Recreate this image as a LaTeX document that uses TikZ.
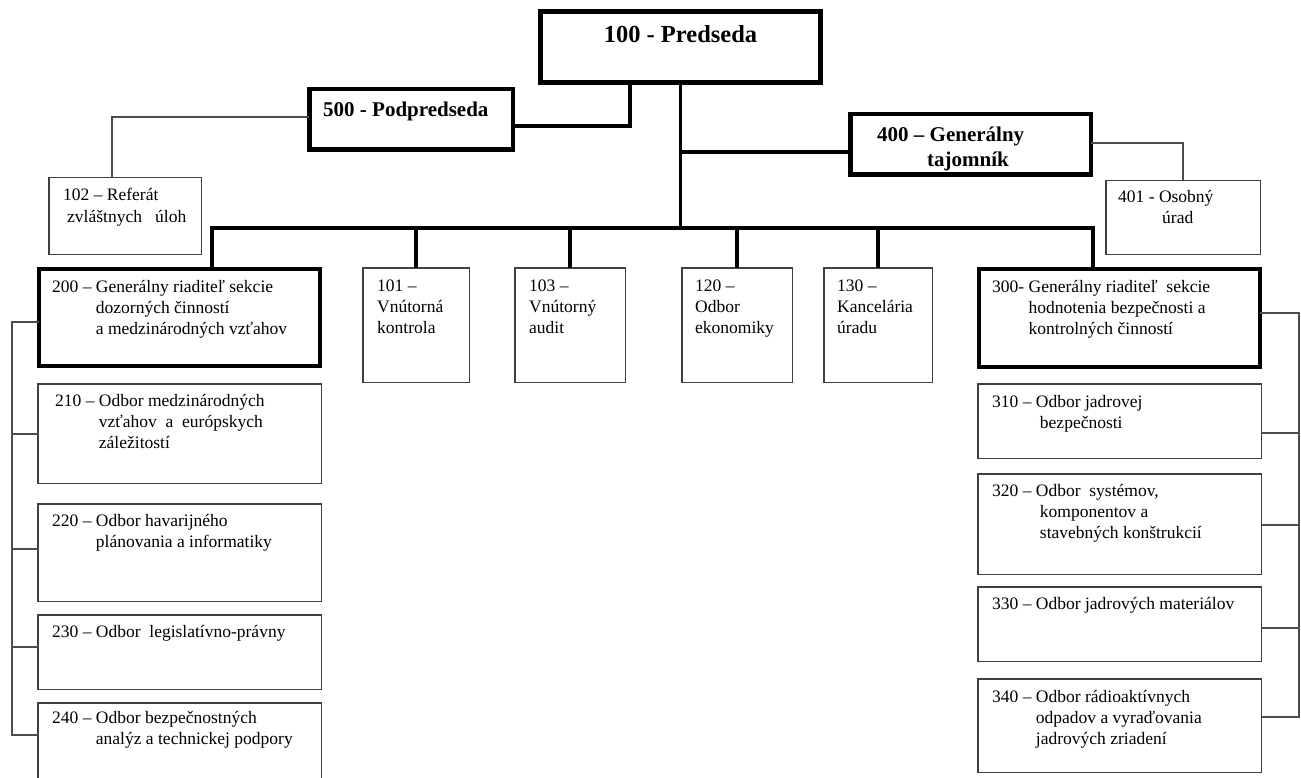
\documentclass[tikz,border=0pt]{standalone}
\usepackage{fontspec}
\setmainfont{Liberation Serif}

\begin{document}
\begin{tikzpicture}[x=1pt,y=-1pt,
  bigbox/.style={draw,line width=4.5pt,inner sep=0pt,outer sep=0pt},
  secbox/.style={draw,line width=3.8pt,inner sep=0pt,outer sep=0pt},
  smallbox/.style={draw=black!75,line width=1.5pt,inner sep=0pt,outer sep=0pt},
  wh/.style 2 args={minimum width=#1,minimum height=#2},
  thickline/.style={line width=3.8pt},
  thinline/.style={draw=black!70,line width=1.5pt},
  lbl/.style={anchor=base west,inner sep=0pt,font=\fontsize{17.5}{21}\selectfont},
  head/.style={anchor=base west,inner sep=0pt,font=\fontsize{21}{25}\selectfont\bfseries}]
\useasboundingbox (0,0) rectangle (1301,778);
\clip (0,0) rectangle (1301,778);

\node[bigbox,line width=5pt,wh={280}{71}] (pre) at (680.5,47) {};
\node[bigbox,wh={203.5}{60.5}] (pod) at (411,119.5) {};
\node[bigbox,wh={240.5}{60.5}] (gen) at (970.5,144.5) {};
\node[smallbox,wh={152.5}{76.5}] (r102) at (125,216) {};
\node[smallbox,wh={154.5}{73.5}] (r401) at (1183,217.5) {};
\node[secbox,wh={281}{97}] (s200) at (179.5,317.5) {};
\node[secbox,wh={281}{98}] (s300) at (1119.5,318) {};
\node[smallbox,wh={106.5}{114.5}] (o101) at (416,325) {};
\node[smallbox,wh={110.5}{114.5}] (o103) at (570,325) {};
\node[smallbox,wh={110.5}{114.5}] (o120) at (737,325) {};
\node[smallbox,wh={108.5}{114.5}] (o130) at (878,325) {};
\node[smallbox,wh={283.5}{99.5}] (o210) at (179.5,433.5) {};
\node[smallbox,wh={283.5}{97.5}] (o220) at (179.5,552.5) {};
\node[smallbox,wh={283.5}{74.5}] (o230) at (179.5,652) {};
\node[smallbox,wh={283.5}{86.5}] (o240) at (179.5,746) {};
\node[smallbox,wh={283.5}{74.5}] (o310) at (1119.5,421) {};
\node[smallbox,wh={283.5}{100.5}] (o320) at (1119.5,524) {};
\node[smallbox,wh={283.5}{74.5}] (o330) at (1119.5,624) {};
\node[smallbox,wh={283.5}{93.5}] (o340) at (1119.5,725.5) {};

\coordinate (busL) at (212,228);
\coordinate (busR) at (1093,228);

\draw[thickline] (pod.east |- 0,126) -| ([xshift=-50.5pt]pre.south);
\draw[thickline] (pre.south) -- (pre.south |- busL);
\draw[thickline] (gen.west |- 0,152) -- (pre.south |- 0,152);
\draw[thickline] (s200.north -| busL) |- (busR) -- (s300.north -| busR);
\foreach \n in {o101,o103,o120,o130}
  \draw[thickline] (\n.north) -- (\n.north |- busL);
\draw[thinline] (pod.west |- 0,117) -| ([xshift=-13pt]r102.north);
\draw[thinline] (gen.east |- 0,143) -| (r401.north);
\draw[thinline] (s200.west |- 0,322) -| (12,735) -- (o240.west |- 0,735);
\foreach \n/\y in {o210/434,o220/549,o230/647}
  \draw[thinline] (\n.west |- 0,\y) -- (12,\y);
\draw[thinline] (s300.east |- 0,313) -| (1299,717) -- (o340.east |- 0,717);
\foreach \n/\y in {o310/433,o320/525,o330/628}
  \draw[thinline] (\n.east |- 0,\y) -- (1299,\y);

\node[head,anchor=base,font=\fontsize{24.5}{28}\selectfont\bfseries] (t100) at (pre.center |- 0,43) {100 - Predseda};
\node[head] (t500) at (323,117) {500 - Podpredseda};
\node[head] (t400) at (877,142) {\begin{tabular}[t]{@{}l@{}}400 – Generálny\\\hspace*{50pt}tajomník\end{tabular}};
\node[lbl] (t102) at (63,201) {\begin{tabular}[t]{@{}l@{}}102 – Referát\\\hspace*{4pt}zvláštnych\ \ \ úloh\end{tabular}};
\node[lbl] (t401) at (1118,203) {\begin{tabular}[t]{@{}l@{}}401 - Osobný\\\hspace*{44pt}úrad\end{tabular}};

\node[lbl] (t200) at (52,292) {\begin{tabular}[t]{@{}l@{ }l@{}}200 –& Generálny riaditeľ sekcie\\ & dozorných činností\\ & a medzinárodných vzťahov\end{tabular}};
\node[lbl] (t101) at (377,291) {\begin{tabular}[t]{@{}l@{}}101 –\\Vnútorná\\kontrola\end{tabular}};
\node[lbl] (t103) at (529,291) {\begin{tabular}[t]{@{}l@{}}103 –\\Vnútorný\\audit\end{tabular}};
\node[lbl] (t120) at (695,291) {\begin{tabular}[t]{@{}l@{}}120 –\\Odbor\\ekonomiky\end{tabular}};
\node[lbl] (t130) at (837,291) {\begin{tabular}[t]{@{}l@{}}130 –\\Kancelária\\úradu\end{tabular}};
\node[lbl] (t300) at (992,292) {\begin{tabular}[t]{@{}l@{ }l@{}}300-& Generálny riaditeľ\ \ sekcie\\ & hodnotenia bezpečnosti a\\ & kontrolných činností\end{tabular}};

\node[lbl] (t210) at (55,406) {\begin{tabular}[t]{@{}l@{ }l@{}}210 –& Odbor medzinárodných\\ & vzťahov\ \ a\ \ európskych\\ & záležitostí\end{tabular}};
\node[lbl] (t220) at (52,526) {\begin{tabular}[t]{@{}l@{ }l@{}}220 –& Odbor havarijného\\ & plánovania a informatiky\end{tabular}};
\node[lbl] (t230) at (52,637) {230 – Odbor\ \ legislatívno-právny};
\node[lbl] (t240) at (52,723) {\begin{tabular}[t]{@{}l@{ }l@{}}240 –& Odbor bezpečnostných\\ & analýz a technickej podpory\end{tabular}};

\node[lbl] (t310) at (992,407) {\begin{tabular}[t]{@{}l@{ }l@{}}310 –& Odbor jadrovej\\ & \hspace*{4pt}bezpečnosti\end{tabular}};
\node[lbl] (t320) at (992,496) {\begin{tabular}[t]{@{}l@{ }l@{}}320 –& Odbor\ \ systémov,\\ & \hspace*{4pt}komponentov a\\ & \hspace*{4pt}stavebných konštrukcií\end{tabular}};
\node[lbl] (t330) at (992,609) {330 – Odbor jadrových materiálov};
\node[lbl] (t340) at (992,702) {\begin{tabular}[t]{@{}l@{ }l@{}}340 –& Odbor rádioaktívnych\\ & odpadov a vyraďovania\\ & jadrových zriadení\end{tabular}};
\end{tikzpicture}
\end{document}
